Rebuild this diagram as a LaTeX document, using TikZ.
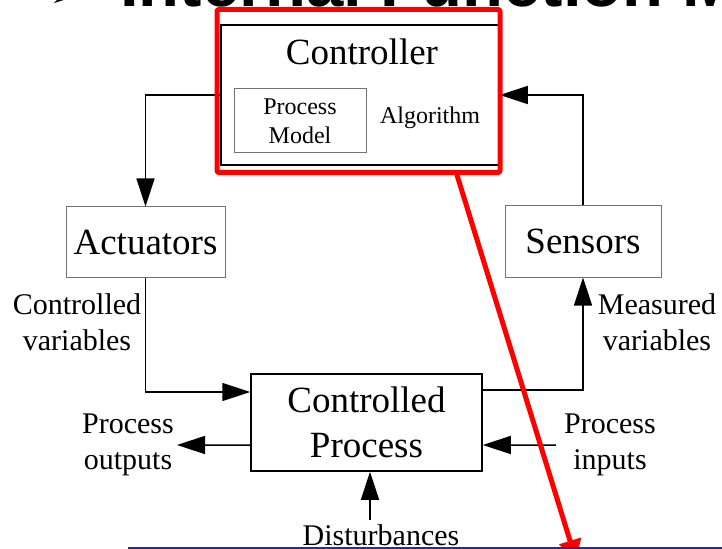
\documentclass[tikz,border=0pt]{standalone}
\usepackage{fontspec}
\setmainfont{Liberation Serif}
\newfontfamily\headfont{Liberation Sans}
\newfontfamily\symfont{DejaVu Sans}
\usetikzlibrary{arrows.meta,positioning,calc}
\definecolor{slideblue}{RGB}{40,40,160}
\tikzset{
  greybox/.style={draw=black!55, line width=1bp, inner sep=0pt},
  conn/.style={line width=1.5bp, -{Triangle[length=28bp,width=18bp]}},
  bigtext/.style={font=\fontsize{37bp}{45bp}\selectfont, align=center, inner sep=0pt},
  midtext/.style={font=\fontsize{30bp}{36bp}\selectfont, align=center, inner sep=0pt},
  smalltext/.style={font=\fontsize{24bp}{29bp}\selectfont, align=center, inner sep=0pt},
  hilite/.style={draw=red, line width=5bp, line cap=round, line join=round},
}
\begin{document}
\begin{tikzpicture}[x=1bp,y=-1bp]
\useasboundingbox (0,0) rectangle (722,549);
\clip (0,0) rectangle (722,549);
% heading (cut off at the top)
\node[anchor=base west, inner sep=0pt, font=\symfont\fontsize{50bp}{50bp}\selectfont] (bullet) at (48,9) {➢};
\node[anchor=base west, inner sep=0pt, font=\headfont\bfseries\fontsize{67bp}{67bp}\selectfont] (head) at (120,7) {Internal Function Model};
% controller
\node[draw=black, line width=1.5bp, minimum width=278bp, minimum height=140bp, inner sep=0pt] (ctrl) at (360,95) {};
\node[bigtext] (ctrltxt) at (362,52) {Controller};
\node[greybox, minimum width=132bp, minimum height=64bp, smalltext] (pm) at (300,121) {Process\\Model};
\node[smalltext] (alg) at (430,118) {Algorithm};
% actuators and sensors
\node[greybox, minimum width=159bp, minimum height=70bp, bigtext] (act) at (145.5,242) {Actuators};
\node[greybox, minimum width=156bp, minimum height=71bp, bigtext] (sens) at (583,241.5) {Sensors};
% controlled process
\node[draw=black, line width=1.5bp, minimum width=231bp, minimum height=97bp, bigtext] (proc) at (366.5,422.5) {Controlled\\Process};
% labels
\node[midtext] (cv) at (77,322) {Controlled\\variables};
\node[midtext] (mv) at (657,322) {Measured\\variables};
\node[midtext] (po) at (128,445) {Process\\outputs};
\node[midtext] (pi) at (610,445) {Process\\inputs};
\node[midtext, anchor=base] (dist) at (381,545) {Disturbances};
% free ends
\coordinate (outend) at (177,445);
\coordinate (instart) at (556,445);
\coordinate (diststart) at (370,520);
% connectors
\draw[conn] (ctrl.west) -| (act.north);
\draw[conn] (sens.north) |- (ctrl.east);
\draw[conn] (act.south) |- ([yshift=30.5bp]proc.west);
\draw[conn] ([yshift=32.5bp]proc.east) -| (sens.south);
\draw[conn] ([yshift=-22.5bp]proc.west) -- (outend);
\draw[conn] (instart) -- ([yshift=-22.5bp]proc.east);
\draw[conn] (diststart) -- (diststart |- proc.south);
% highlight
\node[hilite, minimum width=283bp, minimum height=163bp, inner sep=0pt, rounded corners=2bp] (redbox) at (358.5,91) {};
\coordinate (redend) at (576,560);
\draw[hilite, -{Triangle[length=20bp,width=22bp]}] (457,175) -- (redend);
% slide rule
\draw[slideblue, line width=2bp] (128,548) -- (722,548);
\end{tikzpicture}
\end{document}
